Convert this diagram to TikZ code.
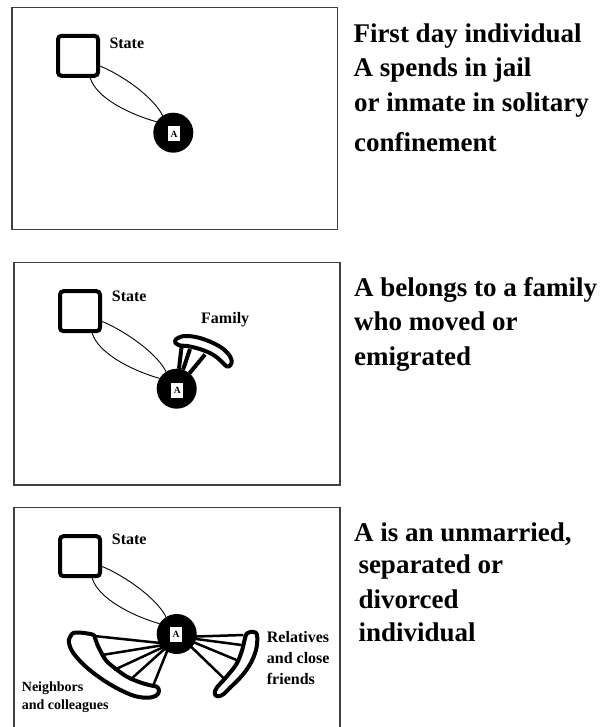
\documentclass[tikz,border=0pt]{standalone}
\usepackage{fontspec}
\setmainfont{Liberation Serif}
\begin{document}
\begin{tikzpicture}[x=1pt,y=-1pt,
  panel/.style={draw=black!75, line width=1.3pt},
  statebox/.style={draw, line width=4pt, rounded corners=3.5pt, minimum size=40pt, inner sep=0pt},
  ego/.style={circle, fill=black, minimum size=40pt, inner sep=0pt, outer sep=0pt},
  egolbl/.style={fill=white, minimum width=12pt, minimum height=15pt, inner sep=0pt, font=\fontsize{9.5}{10}\selectfont\bfseries},
  tie/.style={line width=0.9pt},
  group/.style={draw, line width=4pt, fill=white, line join=round},
  spoke/.style={line width=2.5pt},
  famspoke/.style={line width=4pt},
  big/.style={anchor=base west, inner sep=0pt, font=\fontsize{27}{27}\selectfont\bfseries},
  small/.style={anchor=base west, inner sep=0pt, font=\fontsize{16}{16}\selectfont\bfseries},
  tiny/.style={anchor=base west, inner sep=0pt, font=\fontsize{14}{14}\selectfont\bfseries},
]
\useasboundingbox (0,0) rectangle (602,727);

% ---------- panel frames
\draw[panel] (12,7.3) rectangle (337.7,229.3);
\draw[panel] (14,262.7) rectangle (340,485);
\draw[panel] (14,728) -- (14,507.3) -- (340,507.3) -- (340,728);

% ---------- panel 1
\node[statebox] (S1) at (78,55.8) {};
\node[ego] (A1) at (173.3,132.7) {};
\draw[tie] (S1.-25) .. controls +(20,8) and +(-10,-20) .. (A1.122);
\draw[tie] (S1.-61) .. controls +(6,20) and +(-28,-8) .. (A1.147);
\node[egolbl] (L1) at (174,134) {A};
\node[small] (st1) at (109.3,48.3) {State};

\node[big] (t1a) at (353.3,42.5) {First day individual};
\node[big] (t1b) at (353.3,76.7) {A spends in jail};
\node[big] (t1c) at (354,111.3) {or inmate in solitary};
\node[big] (t1d) at (354,152) {confinement};

% ---------- panel 2
\node[statebox] (S2) at (80,311.2) {};
\draw[group] plot[smooth cycle, tension=0.7] coordinates {
  (175,341) (179,337.5) (187,336) (201.5,338.5) (218,345.5) (227.5,353)
  (231.5,360) (230.5,365) (227,366.5) (223,363) (215,356) (204,350.5)
  (190,346.5) (178.5,345)};
\node[ego] (A2) at (176.7,388.7) {};
\coordinate (f1) at (181.5,347);
\coordinate (f2) at (190,349);
\coordinate (f3) at (205,354.5);
\draw[famspoke] (A2) -- (f1);
\draw[famspoke] (A2) -- (f2);
\draw[famspoke] (A2) -- (f3);
\draw[tie] (S2.-25) .. controls +(20,8) and +(-10,-20) .. (A2.122);
\draw[tie] (S2.-61) .. controls +(6,20) and +(-28,-8) .. (A2.149);
\node[egolbl] (L2) at (177.2,390) {A};
\node[small] (st2) at (111.7,301.7) {State};
\node[small] (fam) at (201,323.3) {Family};

\node[big] (t2a) at (354,296.5) {A belongs to a family};
\node[big] (t2b) at (354,330) {who moved or};
\node[big] (t2c) at (354,365) {emigrated};

% ---------- panel 3
\node[statebox] (S3) at (80,556.2) {};
\draw[group] plot[smooth cycle, tension=0.6] coordinates {
  (70,637) (75.5,632.5) (92.5,634.5) (95,638) (97.5,645) (101.5,653)
  (106.5,661) (116,669) (127.5,677) (140.5,682.5) (152,685.7) (157,686.8)
  (159,691) (156,695.8) (146.7,697.7) (133.7,695.7) (117.5,688.5)
  (101,678.5) (84.5,665.5) (73,652.5) (69,643)};
\draw[group] plot[smooth cycle, tension=0.6] coordinates {
  (250,632) (255.5,632.5) (257.3,637.5) (256,650) (250.5,663.5)
  (241.7,676) (230.8,687) (223,694.5) (217.5,696.3) (214.8,693.8)
  (216.5,688) (226.3,677) (236.5,664) (242,650.5) (244.8,639) (246.8,633.5)};
\coordinate (hl) at (170,644);
\coordinate (hr) at (181,637);
\coordinate (n1) at (94,636);
\coordinate (n2) at (102,655);
\coordinate (n3) at (114,670);
\coordinate (n4) at (130,680);
\coordinate (n5) at (153,686);
\coordinate (r1) at (243.5,635);
\coordinate (r2) at (241.5,645);
\coordinate (r3) at (236.5,660);
\coordinate (r4) at (223.5,678);
\foreach \p in {n1,n2,n3,n4,n5} \draw[spoke] (hl) -- (\p);
\foreach \p in {r1,r2,r3,r4} \draw[spoke] (hr) -- (\p);
\node[ego] (A3) at (176.7,634) {};
\draw[tie] (S3.-25) .. controls +(20,8) and +(-10,-20) .. (A3.122);
\draw[tie] (S3.-61) .. controls +(6,20) and +(-28,-8) .. (A3.149);
\node[egolbl] (L3) at (176,634) {A};
\node[small] (st3) at (111.7,544.3) {State};
\node[small, align=left] (rel1) at (266.7,642) {Relatives};
\node[small] (rel2) at (266.7,663.7) {and close};
\node[small] (rel3) at (266.7,684.3) {friends};
\node[tiny] (nb1) at (21.7,691.7) {Neighbors};
\node[tiny] (nb2) at (21.7,709) {and colleagues};

\node[big] (t3a) at (354,541.7) {A is an unmarried,};
\node[big] (t3b) at (358.3,573.3) {separated or};
\node[big] (t3c) at (358.3,608.3) {divorced};
\node[big] (t3d) at (358.3,641.7) {individual};
\end{tikzpicture}
\end{document}
